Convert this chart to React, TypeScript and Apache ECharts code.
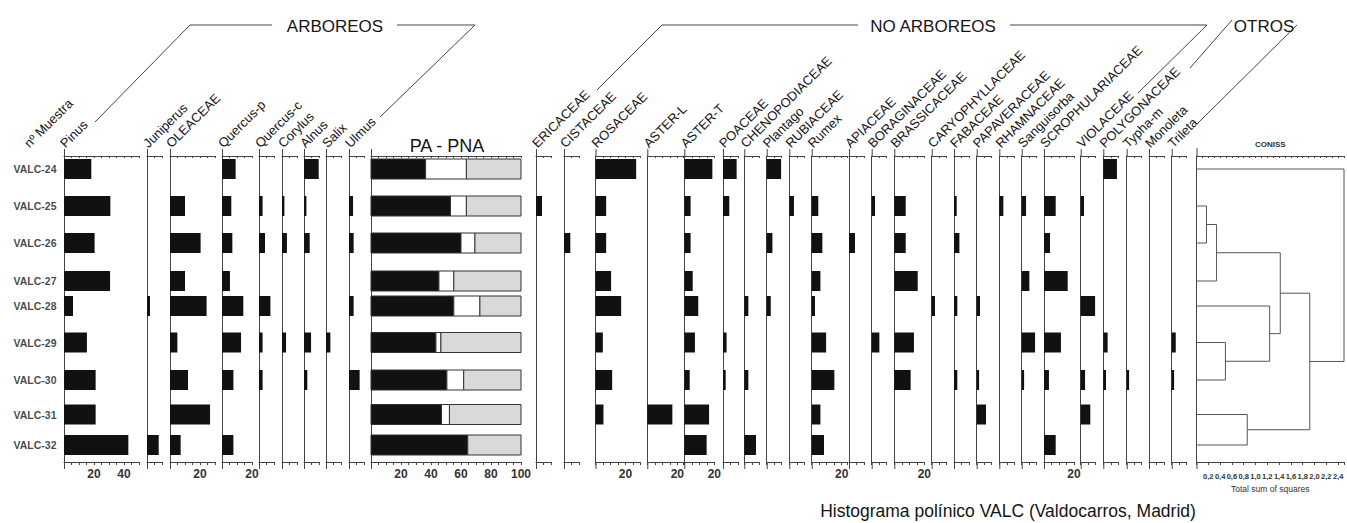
import React, { useEffect, useRef } from "react";
import * as echarts from "echarts";

// ---------------- DATA ----------------
const samples = ["VALC-24", "VALC-25", "VALC-26", "VALC-27", "VALC-28", "VALC-29", "VALC-30", "VALC-31", "VALC-32"];
// relative sample position (depth scale of the diagram)
const sampleDepth = [13, 50, 87, 125, 150, 186.5, 224, 258.5, 289];
const depthRange = 306;
const barDepth = 20;

const pinus = [18.2, 30.9, 20.4, 30.7, 6, 15.3, 21.1, 21.1, 42.9];
const juniperus = [0, 0, 0, 0, 2, 0, 0, 0, 7.8];
const oleaceae = [0, 10, 20.4, 10, 24.4, 4.9, 12, 26.7, 7.1];
const quercusP = [9.1, 6.2, 6.9, 5.3, 14.2, 12.7, 7.6, 0, 7.6];
const quercusC = [0, 2.4, 4, 0, 7.6, 2.4, 2.4, 0, 0];
const corylus = [0, 1.6, 3.3, 0, 0, 2.7, 0, 0, 0];
const alnus = [9.8, 1.6, 3.8, 0, 0, 4.7, 2.2, 0, 0];
const salix = [0, 0, 0, 0, 0, 2.9, 0, 0, 0];
const ulmus = [0, 2.7, 3.1, 0, 3.1, 0, 7.1, 0, 0];

const paSum = [36.4, 53, 60, 45.3, 55.2, 43.3, 50.6, 47, 64.5];
const shrubSum = [27.2, 10.6, 9.3, 9.9, 17.4, 3.3, 11.2, 5.3, 0];
const pnaSum = [36.4, 36.4, 30.7, 44.8, 27.4, 53.4, 38.2, 47.7, 35.5];

const ericaceae = [0, 4, 0, 0, 0, 0, 0, 0, 0];
const cistaceae = [0, 0, 4.2, 0, 0, 0, 0, 0, 0];
const rosaceae = [27.1, 7.1, 7.1, 10.4, 17.1, 4.9, 11.1, 5.3, 0];
const asterL = [0, 0, 0, 0, 0, 0, 0, 16.7, 0];
const asterT = [18.7, 4.2, 4.2, 5.6, 9.3, 7.1, 3.6, 16.5, 14.9];
const poaceae = [9.1, 4.2, 0, 0, 0, 2.4, 1.8, 0, 0];
const chenopodiaceae = [0, 0, 0, 0, 2.7, 0, 2.7, 0, 7.8];
const plantago = [9.6, 0, 3.8, 0, 2.7, 0, 0, 0, 0];
const rubiaceae = [0, 3.1, 0, 0, 0, 0, 0, 0, 0];
const rumex = [0, 4.4, 7.1, 5.8, 2.2, 9.6, 15.1, 5.8, 8.2];
const apiaceae = [0, 0, 4, 0, 0, 0, 0, 0, 0];
const boraginaceae = [0, 2.2, 0, 0, 0, 5.1, 0, 0, 0];
const brassicaceae = [0, 7.6, 7.6, 15.6, 0, 13.1, 10.9, 0, 0];
const caryophyllaceae = [0, 0, 0, 0, 2.2, 0, 0, 0, 0];
const fabaceae = [0, 1.8, 3.6, 0, 2.2, 0, 2.2, 0, 0];
const papaveraceae = [0, 0, 0, 0, 2.2, 0, 1.6, 6.2, 0];
const rhamnaceae = [0, 2.7, 0, 0, 0, 0, 0, 0, 0];
const sanguisorba = [0, 2.9, 0, 5.1, 0, 8.9, 1.6, 0, 0];
const scrophulariaceae = [0, 7.8, 4, 15.8, 0, 11.3, 3.3, 0, 7.8];
const violaceae = [0, 2.2, 0, 0, 9.6, 0, 2.9, 6.4, 0];
const polygonaceae = [9.1, 0, 0, 0, 0, 2.9, 1.8, 0, 0];
const typhaM = [0, 0, 0, 0, 0, 0, 1.6, 0, 0];
const monoleta = [0, 0, 0, 0, 0, 0, 0, 0, 0];
const trileta = [0, 0, 0, 0, 0, 2.7, 1.6, 0, 0];

// CONISS linkage (leaves 0..8 = samples, new nodes 9..)
const linkLeft = [1, 9, 5, 4, 10, 7, 13, 0];
const linkRight = [2, 3, 6, 11, 12, 8, 14, 15];
const linkHeight = [0.17, 0.34, 0.49, 1.24, 1.42, 0.86, 1.92, 2.5];

type Panel = { name: string; max: number; values?: number[]; stacked?: boolean };
const panels: Panel[] = [
  { name: "Pinus", values: pinus, max: 50 },
  { name: "Juniperus", values: juniperus, max: 10 },
  { name: "OLEACEAE", values: oleaceae, max: 30 },
  { name: "Quercus-p", values: quercusP, max: 20 },
  { name: "Quercus-c", values: quercusC, max: 10 },
  { name: "Corylus", values: corylus, max: 10 },
  { name: "Alnus", values: alnus, max: 10 },
  { name: "Salix", values: salix, max: 10 },
  { name: "Ulmus", values: ulmus, max: 10 },
  { name: "PA - PNA", stacked: true, max: 100 },
  { name: "ERICACEAE", values: ericaceae, max: 10 },
  { name: "CISTACEAE", values: cistaceae, max: 10 },
  { name: "ROSACEAE", values: rosaceae, max: 30 },
  { name: "ASTER-L", values: asterL, max: 24 },
  { name: "ASTER-T", values: asterT, max: 20 },
  { name: "POACEAE", values: poaceae, max: 10 },
  { name: "CHENOPODIACEAE", values: chenopodiaceae, max: 10 },
  { name: "Plantago", values: plantago, max: 10 },
  { name: "RUBIACEAE", values: rubiaceae, max: 10 },
  { name: "Rumex", values: rumex, max: 24 },
  { name: "APIACEAE", values: apiaceae, max: 10 },
  { name: "BORAGINACEAE", values: boraginaceae, max: 10 },
  { name: "BRASSICACEAE", values: brassicaceae, max: 20 },
  { name: "CARYOPHYLLACEAE", values: caryophyllaceae, max: 10 },
  { name: "FABACEAE", values: fabaceae, max: 10 },
  { name: "PAPAVERACEAE", values: papaveraceae, max: 10 },
  { name: "RHAMNACEAE", values: rhamnaceae, max: 10 },
  { name: "Sanguisorba", values: sanguisorba, max: 10 },
  { name: "SCROPHULARIACEAE", values: scrophulariaceae, max: 20 },
  { name: "VIOLACEAE", values: violaceae, max: 10 },
  { name: "POLYGONACEAE", values: polygonaceae, max: 10 },
  { name: "Typha-m", values: typhaM, max: 10 },
  { name: "Monoleta", values: monoleta, max: 10 },
  { name: "Trileta", values: trileta, max: 10 },
];

// ---------------- LAYOUT ----------------
const panelLeft = [64, 147, 170, 222, 259, 282, 304, 326, 349, 371, 536, 564, 595.5, 647.3, 684.3, 723, 744.3, 766.7, 789.3, 811.7, 849, 871.7, 894.3, 931.7, 954, 976.7, 999.3, 1021.7, 1044, 1080.7, 1103.3, 1126.7, 1149, 1171.7];
const conissLeft = 1196.5;
const conissWidth = 148;
const GRID_TOP = 156;
const GRID_H = 306;
const PX = 1.5;
const FONT = '"Liberation Sans", Arial, sans-serif';
const AXIS_COLOR = "#444";
const TEXT_COLOR = "#151515";

const makeBarRender = (fill: string, stroke?: string) => (params: any, api: any) => {
  const s = api.value(0);
  const e = api.value(1);
  const d = api.value(2);
  if (!(e - s > 0)) return null;
  const a = api.coord([s, d]);
  const b = api.coord([e, d]);
  const h = Math.abs(api.size([0, barDepth])[1]);
  return {
    type: "rect",
    shape: { x: a[0], y: a[1] - h / 2, width: b[0] - a[0], height: h },
    style: { fill, stroke: stroke || "none", lineWidth: stroke ? 1 : 0 },
  };
};

function buildOption() {
  const grid: any[] = [];
  const xAxis: any[] = [];
  const yAxis: any[] = [];
  const series: any[] = [];
  const graphic: any[] = [];

  const lineStyle = { color: AXIS_COLOR, width: 1 };

  panels.forEach((p, i) => {
    grid.push({ left: panelLeft[i], top: GRID_TOP, width: p.max * PX, height: GRID_H });
    xAxis.push({
      gridIndex: i, type: "value", min: 0, max: p.max, interval: 5, position: "bottom",
      axisLine: { show: true, onZero: false, lineStyle },
      axisTick: { show: true, length: 3, lineStyle },
      axisLabel: {
        show: true, margin: 6, color: "#333", fontSize: 12, fontWeight: "bold", fontFamily: FONT,
        formatter: (v: number) => (v > 0 && v % 20 === 0 ? String(v) : ""),
      },
      splitLine: { show: false },
    });
    xAxis.push({
      gridIndex: i, type: "value", min: 0, max: p.max, interval: 5, position: "top",
      axisLine: { show: true, onZero: false, lineStyle },
      axisTick: { show: true, inside: true, length: 2, lineStyle },
      axisLabel: { show: false },
      splitLine: { show: false },
    });
    yAxis.push({
      gridIndex: i, type: "value", min: 0, max: depthRange, inverse: true,
      axisLine: { show: true, onZero: false, lineStyle },
      axisTick: { show: false }, axisLabel: { show: false }, splitLine: { show: false },
    });

    if (p.stacked) {
      const segs = [
        { name: "PA", fill: "#111", stroke: "#333", from: (k: number) => 0, to: (k: number) => paSum[k] },
        { name: "Arbustos", fill: "#ffffff", stroke: "#333", from: (k: number) => paSum[k], to: (k: number) => paSum[k] + shrubSum[k] },
        { name: "PNA", fill: "#d9d9d9", stroke: "#333", from: (k: number) => paSum[k] + shrubSum[k], to: (k: number) => paSum[k] + shrubSum[k] + pnaSum[k] },
      ];
      segs.forEach((sg) => {
        series.push({
          type: "custom", name: sg.name, xAxisIndex: 2 * i, yAxisIndex: i, silent: true,
          encode: { x: [0, 1], y: 2 },
          data: samples.map((_, k) => [sg.from(k), sg.to(k), sampleDepth[k]]),
          renderItem: makeBarRender(sg.fill, sg.stroke),
        });
      });
    } else {
      series.push({
        type: "custom", name: p.name, xAxisIndex: 2 * i, yAxisIndex: i, silent: true,
        encode: { x: [0, 1], y: 2 },
        data: (p.values || []).map((v, k) => [0, v, sampleDepth[k]]),
        renderItem: makeBarRender("#111"),
      });
    }

    // taxon label
    if (p.stacked) {
      graphic.push({
        type: "text", x: panelLeft[i] + 76, y: 146,
        style: { text: p.name, fill: TEXT_COLOR, font: `18px ${FONT}`, align: "center", verticalAlign: "middle", textAlign: "center", textVerticalAlign: "middle" },
      });
    } else {
      graphic.push({
        type: "text", x: panelLeft[i] + 3, y: 150, rotation: Math.PI / 4,
        style: { text: p.name, fill: TEXT_COLOR, font: `13px ${FONT}`, align: "left", verticalAlign: "bottom", textAlign: "left", textVerticalAlign: "bottom" },
      });
    }
    // extension of the zero line above / below
    graphic.push({ type: "line", shape: { x1: panelLeft[i] + 0.5, y1: 149, x2: panelLeft[i] + 0.5, y2: 156 }, style: { stroke: AXIS_COLOR, lineWidth: 1 } });
    graphic.push({ type: "line", shape: { x1: panelLeft[i] + 0.5, y1: 462, x2: panelLeft[i] + 0.5, y2: 469 }, style: { stroke: AXIS_COLOR, lineWidth: 1 } });
  });

  // sample labels on first panel
  series.push({
    type: "scatter", xAxisIndex: 0, yAxisIndex: 0, silent: true, symbolSize: 1,
    itemStyle: { color: "rgba(0,0,0,0)" },
    data: sampleDepth.map((d) => [0, d]),
    label: {
      show: true, position: "left", distance: 7, color: TEXT_COLOR, fontSize: 10.5, fontWeight: "bold", fontFamily: FONT,
      formatter: (prm: any) => samples[prm.dataIndex],
    },
  });

  // CONISS panel
  const ci = panels.length;
  grid.push({ left: conissLeft, top: GRID_TOP, width: conissWidth, height: GRID_H });
  xAxis.push({
    gridIndex: ci, type: "value", min: 0, max: 2.5, interval: 0.2, position: "bottom",
    name: "Total sum of squares", nameLocation: "middle", nameGap: 22,
    nameTextStyle: { fontSize: 8.5, color: "#333", fontFamily: FONT },
    axisLine: { show: true, onZero: false, lineStyle },
    axisTick: { show: true, length: 3, lineStyle },
    axisLabel: {
      show: true, margin: 10, fontSize: 7.5, fontWeight: "bold", color: "#333", fontFamily: FONT,
      formatter: (v: number) => (v > 0.01 && v < 2.45 ? v.toFixed(1).replace(".", ",") : ""),
    },
    splitLine: { show: false },
  });
  xAxis.push({
    gridIndex: ci, type: "value", min: 0, max: 2.5, interval: 0.1, position: "top",
    name: "CONISS", nameLocation: "middle", nameGap: 8,
    nameTextStyle: { fontSize: 8, fontWeight: "bold", color: "#333", fontFamily: FONT },
    axisLine: { show: true, onZero: false, lineStyle },
    axisTick: { show: true, inside: true, length: 2, lineStyle },
    axisLabel: { show: false }, splitLine: { show: false },
  });
  yAxis.push({
    gridIndex: ci, type: "value", min: 0, max: depthRange, inverse: true,
    axisLine: { show: true, onZero: false, lineStyle },
    axisTick: { show: false }, axisLabel: { show: false }, splitLine: { show: false },
  });
  graphic.push({ type: "line", shape: { x1: conissLeft + 0.5, y1: 148, x2: conissLeft + 0.5, y2: 156 }, style: { stroke: AXIS_COLOR, lineWidth: 1 } });
  graphic.push({ type: "line", shape: { x1: conissLeft + 0.5, y1: 462, x2: conissLeft + 0.5, y2: 469 }, style: { stroke: AXIS_COLOR, lineWidth: 1 } });

  // dendrogram
  const nodeX: number[] = samples.map(() => 0);
  const nodeY: number[] = sampleDepth.slice();
  const dendroData: number[][] = [];
  linkLeft.forEach((l, k) => {
    const r = linkRight[k];
    const h = linkHeight[k];
    dendroData.push([nodeX[l], nodeY[l], h, nodeX[r], nodeY[r]]);
    nodeX.push(h);
    nodeY.push((nodeY[l] + nodeY[r]) / 2);
  });
  series.push({
    type: "custom", name: "CONISS", xAxisIndex: 2 * ci, yAxisIndex: ci, silent: true,
    encode: { x: [0, 2, 3], y: [1, 4] },
    data: dendroData,
    renderItem: (params: any, api: any) => {
      const pts = [
        api.coord([api.value(0), api.value(1)]),
        api.coord([api.value(2), api.value(1)]),
        api.coord([api.value(2), api.value(4)]),
        api.coord([api.value(3), api.value(4)]),
      ];
      return { type: "polyline", shape: { points: pts }, style: { stroke: "#555", lineWidth: 1, fill: "none" } };
    },
  });

  // sample column header
  graphic.push({
    type: "text", x: 31, y: 150, rotation: Math.PI / 4,
    style: { text: "nº Muestra", fill: TEXT_COLOR, font: `13px ${FONT}`, align: "left", verticalAlign: "bottom", textAlign: "left", textVerticalAlign: "bottom" },
  });

  // group headers
  const headStyle = (t: string) => ({ text: t, fill: TEXT_COLOR, font: `17px ${FONT}`, align: "center", verticalAlign: "middle", textAlign: "center", textVerticalAlign: "middle" });
  const ln = { stroke: "#444", lineWidth: 1, fill: "none" };
  graphic.push({ type: "text", x: 335, y: 26, style: headStyle("ARBOREOS") });
  graphic.push({ type: "polyline", shape: { points: [[95, 122], [190, 25], [272, 25]] }, style: ln });
  graphic.push({ type: "polyline", shape: { points: [[397, 25], [475, 25], [380, 117]] }, style: ln });
  graphic.push({ type: "text", x: 933, y: 26, style: headStyle("NO ARBOREOS") });
  graphic.push({ type: "polyline", shape: { points: [[597, 90], [662, 25], [858, 25]] }, style: ln });
  graphic.push({ type: "polyline", shape: { points: [[1010, 25], [1207, 25], [1138, 93]] }, style: ln });
  graphic.push({ type: "text", x: 1264, y: 26, style: headStyle("OTROS") });
  graphic.push({ type: "polyline", shape: { points: [[1232, 20], [1190, 68]] }, style: ln });
  graphic.push({ type: "polyline", shape: { points: [[1297, 25], [1198, 123]] }, style: ln });

  // title
  graphic.push({
    type: "text", x: 1008, y: 511,
    style: { text: "Histograma polínico VALC (Valdocarros, Madrid)", fill: TEXT_COLOR, font: `17.5px ${FONT}`, align: "center", verticalAlign: "middle", textAlign: "center", textVerticalAlign: "middle" },
  });

  return { animation: false, backgroundColor: "#ffffff", grid, xAxis, yAxis, series, graphic };
}

export default function App() {
  const ref = useRef<HTMLDivElement>(null);
  useEffect(() => {
    if (!ref.current) return;
    const chart = echarts.init(ref.current, undefined, { renderer: "svg" });
    chart.setOption(buildOption() as any);
    return () => chart.dispose();
  }, []);
  return <div ref={ref} style={{ position: "fixed", left: 0, top: 0, width: 1347, height: 523, background: "#fff" }} />;
}
